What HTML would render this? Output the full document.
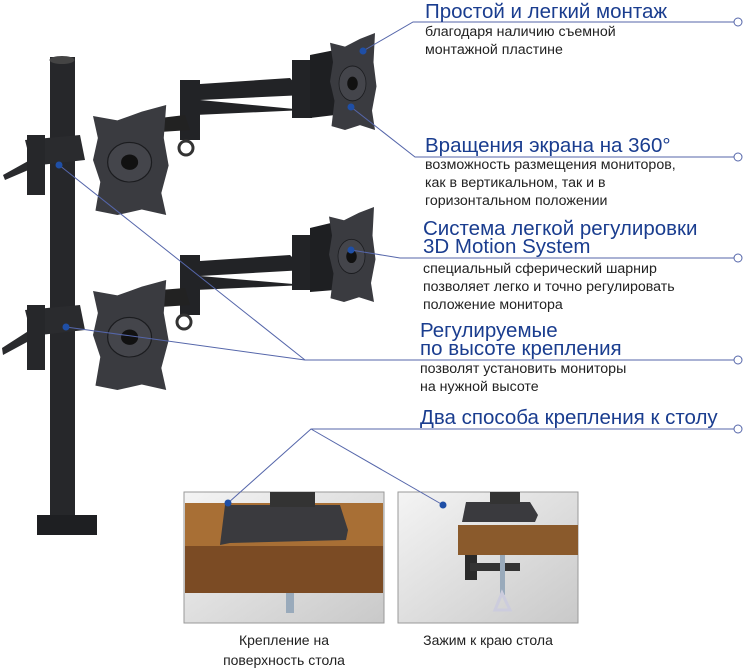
<!DOCTYPE html>
<html><head><meta charset="utf-8"><style>
body{margin:0;width:750px;height:670px;background:#fff;position:relative;overflow:hidden;font-family:"Liberation Sans","DejaVu Sans",sans-serif}
.t{position:absolute;color:#1a3d8f;font-size:20.5px;line-height:19px;white-space:nowrap}
.s{position:absolute;color:#222;font-size:14.2px;line-height:18px;white-space:nowrap}
.c{position:absolute;color:#222;font-size:14px;line-height:20px;text-align:center}
</style></head><body>
<svg width="750" height="670" style="position:absolute;left:0;top:0">
<defs>
<linearGradient id="bg" x1="0" y1="0" x2="1" y2="1"><stop offset="0" stop-color="#f4f4f4"/><stop offset="1" stop-color="#c9c9c9"/></linearGradient>
<g id="plate"><path d="M0,10 L20,14 L40,6 L60,0 L58,30 L62,55 L56,80 L60,100 L40,95 L20,100 L2,96 L6,70 L0,50 L4,30 Z" fill="#3a3b40"/><circle cx="30" cy="52" r="18" fill="#44454b" stroke="#1b1c1f"/><circle cx="30" cy="52" r="7" fill="#111"/></g>
</defs>
<rect x="50" y="57" width="25" height="465" fill="#26272a"/>
<ellipse cx="62" cy="60" rx="12.5" ry="4" fill="#444"/>
<rect x="37" y="515" width="60" height="20" fill="#1e1f22"/>
<!-- upper arms -->
<path d="M185,85 L290,78 L305,95 L200,100 L305,110 L195,115 Z" fill="#222326"/>
<rect x="180" y="80" width="20" height="60" fill="#222326"/>
<rect x="292" y="60" width="20" height="58" fill="#222326"/>
<path d="M310,55 L335,50 L335,115 L310,118Z" fill="#1e1f22"/>
<circle cx="186" cy="148" r="7" fill="none" stroke="#333" stroke-width="3"/>
<path d="M160,118 L185,115 L190,130 L160,132Z" fill="#222"/>
<g transform="translate(93,105) scale(1.22,1.1)"><use href="#plate"/></g>
<g transform="translate(330,33) scale(0.75,0.97)"><use href="#plate"/></g>
<path d="M25,140 L80,135 L85,160 L40,165 L5,180 L3,175 L30,160Z" fill="#2a2b2e"/>
<rect x="27" y="135" width="18" height="60" fill="#26272a"/>
<!-- lower arms -->
<path d="M185,262 L290,255 L305,270 L200,276 L305,285 L195,290 Z" fill="#222326"/>
<rect x="180" y="255" width="20" height="60" fill="#222326"/>
<rect x="292" y="235" width="20" height="55" fill="#222326"/>
<path d="M310,228 L335,222 L335,290 L310,292Z" fill="#1e1f22"/>
<circle cx="184" cy="322" r="7" fill="none" stroke="#333" stroke-width="3"/>
<path d="M160,290 L185,288 L190,305 L160,307Z" fill="#222"/>
<g transform="translate(93,280) scale(1.22,1.1)"><use href="#plate"/></g>
<g transform="translate(329,207) scale(0.75,0.95)"><use href="#plate"/></g>
<path d="M25,310 L80,305 L85,330 L40,335 L3,355 L2,348 L30,330Z" fill="#2a2b2e"/>
<rect x="27" y="305" width="18" height="65" fill="#26272a"/>
<!-- boxes -->
<rect x="184" y="492" width="200" height="131" fill="url(#bg)" stroke="#999"/>
<rect x="185" y="503" width="198" height="43" fill="#a86f35"/>
<rect x="185" y="546" width="198" height="47" fill="#7b4b24"/>
<path d="M220,545 L225,505 L340,505 L348,530 L346,540 L230,543Z" fill="#3a3a3e"/>
<rect x="270" y="492" width="45" height="15" fill="#333"/>
<rect x="286" y="593" width="8" height="20" fill="#9ab"/>
<rect x="398" y="492" width="180" height="131" fill="url(#bg)" stroke="#999"/>
<rect x="458" y="525" width="120" height="30" fill="#8a5a2c"/>
<path d="M462,522 L466,502 L530,502 L538,515 L535,522Z" fill="#3a3a3e"/>
<rect x="490" y="492" width="30" height="12" fill="#333"/>
<rect x="465" y="555" width="12" height="25" fill="#2a2a2a"/>
<rect x="470" y="563" width="50" height="8" fill="#333"/>
<rect x="500" y="555" width="5" height="40" fill="#9ab"/>
<path d="M495,610 L502,593 L510,610Z" fill="none" stroke="#ccd" stroke-width="3"/>
<g stroke="#5566aa" stroke-width="1" fill="#fff">
<polyline points="363,51 413,22 734,22" fill="none"/>
<polyline points="351,107 415,157 734,157" fill="none"/>
<polyline points="351,250 400,258 734,258" fill="none"/>
<polyline points="59,165 305,360 734,360" fill="none"/>
<polyline points="66,327 305,360" fill="none"/>
<polyline points="228,503 311,429 734,429" fill="none"/>
<polyline points="311,429 443,505" fill="none"/>
<circle cx="738" cy="22" r="4"/><circle cx="738" cy="157" r="4"/><circle cx="738" cy="258" r="4"/><circle cx="738" cy="360" r="4"/><circle cx="738" cy="429" r="4"/>
</g>
<g fill="#1f4fa6"><circle cx="363" cy="51" r="3.5"/><circle cx="351" cy="107" r="3.5"/><circle cx="351" cy="250" r="3.5"/><circle cx="59" cy="165" r="3.5"/><circle cx="66" cy="327" r="3.5"/><circle cx="228" cy="503" r="3.5"/><circle cx="443" cy="505" r="3.5"/></g>
</svg>
<div class="t" style="left:425px;top:2px">Простой и легкий монтаж</div>
<div class="s" style="left:425px;top:23px">благодаря наличию съемной<br>монтажной пластине</div>
<div class="t" style="left:425px;top:136px">Вращения экрана на 360°</div>
<div class="s" style="left:425px;top:156px">возможность размещения мониторов,<br>как в вертикальном, так и в<br>горизонтальном положении</div>
<div class="t" style="left:423px;top:220px;line-height:18px">Система легкой регулировки<br>3D Motion System</div>
<div class="s" style="left:423px;top:260px">специальный сферический шарнир<br>позволяет легко и точно регулировать<br>положение монитора</div>
<div class="t" style="left:420px;top:322px;line-height:18px">Регулируемые<br>по высоте крепления</div>
<div class="s" style="left:420px;top:360px">позволят установить мониторы<br>на нужной высоте</div>
<div class="t" style="left:420px;top:408px">Два способа крепления к столу</div>
<div class="c" style="left:184px;top:630px;width:200px">Крепление на<br>поверхность стола</div>
<div class="c" style="left:398px;top:630px;width:180px">Зажим к краю стола</div>
</body></html>
